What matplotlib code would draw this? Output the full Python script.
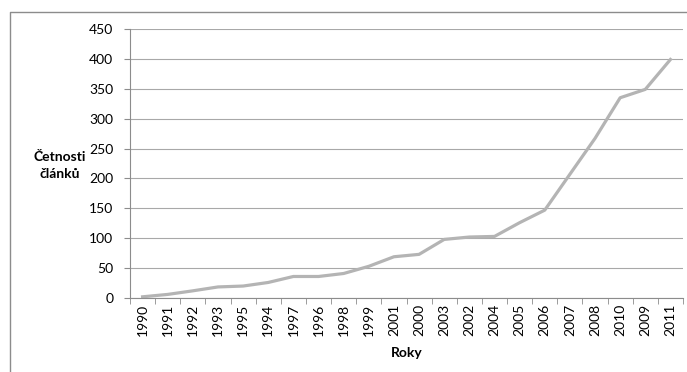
import matplotlib.pyplot as plt
from matplotlib.lines import Line2D
import numpy as np

plt.rcParams['font.family'] = ['Lato', 'DejaVu Sans']

# roky v poradi jak jsou v tabulce
roky = ['1990', '1991', '1992', '1993', '1995', '1994', '1997', '1996', '1998', '1999',
        '2001', '2000', '2003', '2002', '2004', '2005', '2006', '2007', '2008', '2010',
        '2009', '2011']
cetnosti = [2, 6, 12, 18.5, 20, 26, 36, 36, 41, 53,
            69, 73, 98, 102, 103, 126, 147, 207, 267, 335,
            349, 399]

fig = plt.figure(figsize=(6.87, 3.72), dpi=100)
ax = fig.add_axes([130 / 687, 1 - 298 / 372, 553 / 687, 269 / 372])

x = np.arange(len(roky))
ax.plot(x, cetnosti, color='#b4b4b4', lw=2.3, solid_joinstyle='round')

ax.set_xlim(-0.5, len(roky) - 0.5)
ax.set_ylim(0, 450)
ax.set_yticks(range(0, 451, 50))
ax.yaxis.grid(True, color='#a8a8a8', lw=0.8)
ax.set_axisbelow(True)

ax.set_xticks(x)
ax.set_xticklabels(roky, rotation=90, fontsize=10)
ax.set_xticks(np.arange(-0.5, len(roky)), minor=True)
ax.tick_params(axis='x', which='major', length=0, pad=4)
ax.tick_params(axis='x', which='minor', length=4, color='#8c8c8c', direction='out')
ax.tick_params(axis='y', length=4, color='#8c8c8c', labelsize=10, pad=8)

for s in ['top', 'right']:
    ax.spines[s].set_visible(False)
for s in ['left', 'bottom']:
    ax.spines[s].set_color('#8c8c8c')
    ax.spines[s].set_linewidth(0.8)

ax.set_xlabel('Roky', fontsize=10, fontweight='bold', labelpad=8)
fig.text(60 / 687, 1 - 165 / 372, 'Četnosti\nčlánků', ha='center', va='center',
         fontsize=10, fontweight='bold', linespacing=1.5)

# okraj grafu
fig.add_artist(Line2D([9.5 / 687, 9.5 / 687, 1], [0, 1 - 12 / 372, 1 - 12 / 372],
                      transform=fig.transFigure, color='#8c8c8c', lw=1))

fig.savefig('out.png', dpi=100)
